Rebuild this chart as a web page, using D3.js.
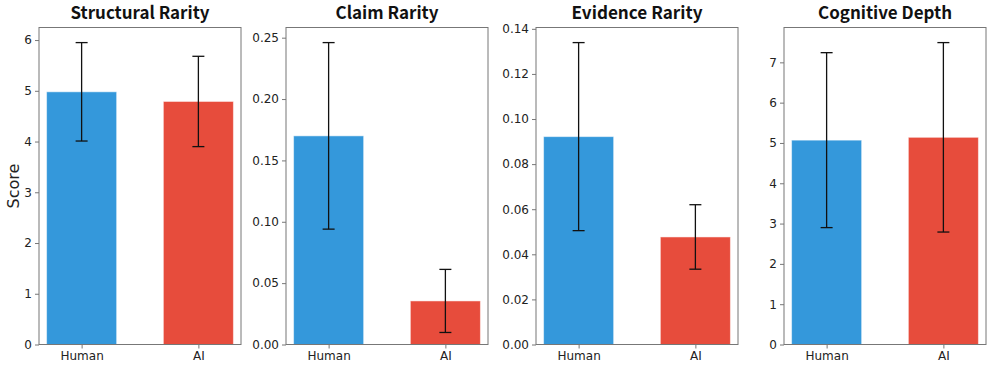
<!DOCTYPE html>
<html>
<head>
<meta charset="utf-8">
<script src="https://cdn.jsdelivr.net/npm/d3@7"></script>
<style>
	body { margin: 0; background: #fff; }
	.tick text { font-family: "DejaVu Sans", sans-serif; font-size: 12px; fill: #222; }
	.tick line { stroke: #777; }
	.domain { display: none; }
	.title { font-family: "Noto Sans CJK JP", "Noto Sans", sans-serif; font-weight: 700; font-size: 17.5px; fill: #111; }
	.ylabel { font-family: "DejaVu Sans", sans-serif; font-size: 16px; fill: #222; }
</style>
</head>
<body>
<script>
// groups and colours
const groups = ['Human', 'AI'];
const colors = ['#3498db', '#e74c3c'];

// metric names (panel titles)
const metrics = ['Structural Rarity', 'Claim Rarity', 'Evidence Rarity', 'Cognitive Depth'];

// means per metric: [Human, AI]
const means = [
	[4.98, 4.79],
	[0.170, 0.0355],
	[0.0922, 0.0477],
	[5.07, 5.14],
];

// standard deviations per metric: [Human, AI]
const errors = [
	[0.97, 0.89],
	[0.076, 0.0257],
	[0.0417, 0.0143],
	[2.17, 2.35],
];

// y tick values per panel
const yTicks = [
	[0, 1, 2, 3, 4, 5, 6],
	[0, 0.05, 0.10, 0.15, 0.20, 0.25],
	[0, 0.02, 0.04, 0.06, 0.08, 0.10, 0.12, 0.14],
	[0, 1, 2, 3, 4, 5, 6, 7],
];
const yFormats = [d3.format('d'), d3.format('.2f'), d3.format('.2f'), d3.format('d')];

const W = 997;
const H = 377;
const panelLeft = [39, 286, 536, 784];
const panelWidth = 202;
const plotTop = 27.5;
const plotBottom = 344.5;
// rendered title widths in the reference (its font is narrower)
const titleWidth = [139, 103, 131, 134];

const svg = d3
	.select('body')
	.append('svg')
	.attr('width', W)
	.attr('height', H);

metrics.forEach((name, p) => {
	const g = svg.append('g').attr('transform', `translate(${panelLeft[p]},0)`);

	// matplotlib-like auto limit: max(mean + err) * 1.05
	const ymax = d3.max(means[p], (m, i) => m + errors[p][i]) * 1.05;

	const x = d3
		.scaleLinear()
		.domain([-0.365, 1.365])
		.range([0, panelWidth]);

	const y = d3
		.scaleLinear()
		.domain([0, ymax])
		.range([plotBottom, plotTop]);

	const barW = x(0.3) - x(-0.3);

	g.selectAll('rect.bar')
		.data(groups)
		.enter()
		.append('rect')
		.attr('class', 'bar')
		.attr('x', (d, i) => x(i) - barW / 2)
		.attr('y', (d, i) => y(means[p][i]))
		.attr('width', barW)
		.attr('height', (d, i) => y(0) - y(means[p][i]))
		.style('fill', (d, i) => colors[i])
		.style('stroke', '#ffffff')
		.style('stroke-opacity', 0.5)
		.style('stroke-width', 1);

	// error bars
	const eb = g.selectAll('g.err')
		.data(groups)
		.enter()
		.append('g')
		.attr('class', 'err')
		.style('stroke', '#111')
		.style('stroke-width', 1.3);

	eb.append('line')
		.attr('x1', (d, i) => x(i))
		.attr('x2', (d, i) => x(i))
		.attr('y1', (d, i) => y(means[p][i] - errors[p][i]))
		.attr('y2', (d, i) => y(means[p][i] + errors[p][i]));

	[-1, 1].forEach(s => {
		eb.append('line')
			.attr('x1', (d, i) => x(i) - 6)
			.attr('x2', (d, i) => x(i) + 6)
			.attr('y1', (d, i) => y(means[p][i] + s * errors[p][i]))
			.attr('y2', (d, i) => y(means[p][i] + s * errors[p][i]));
	});

	// axes
	g.append('g')
		.call(d3.axisLeft(y).tickValues(yTicks[p]).tickFormat(yFormats[p]).tickSize(4).tickPadding(3));

	g.append('g')
		.attr('transform', `translate(0,${plotBottom})`)
		.call(d3.axisBottom(x).tickValues([0, 1]).tickFormat((d, i) => groups[i]).tickSize(4).tickPadding(3));

	// frame
	g.append('rect')
		.attr('x', 0)
		.attr('y', plotTop)
		.attr('width', panelWidth)
		.attr('height', plotBottom - plotTop)
		.style('fill', 'none')
		.style('stroke', '#777')
		.style('stroke-width', 1);

	g.append('text')
		.attr('class', 'title')
		.attr('x', panelWidth / 2)
		.attr('y', 18.5)
		.attr('text-anchor', 'middle')
		.attr('textLength', titleWidth[p])
		.attr('lengthAdjust', 'spacingAndGlyphs')
		.text(name);
});

svg.append('text')
	.attr('class', 'ylabel')
	.attr('transform', `translate(19,${(plotTop + plotBottom) / 2}) rotate(-90)`)
	.attr('text-anchor', 'middle')
	.text('Score');
</script>
</body>
</html>
